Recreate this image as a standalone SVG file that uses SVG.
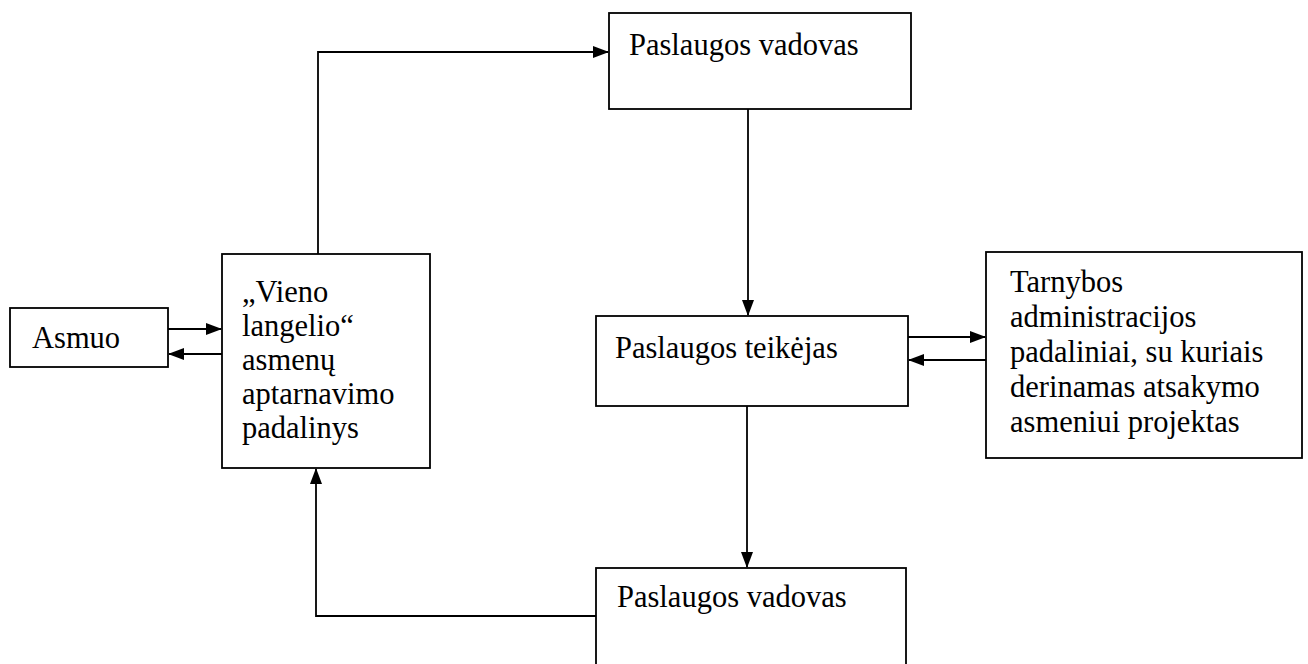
<svg xmlns="http://www.w3.org/2000/svg" width="1308" height="664" viewBox="0 0 1308 664">
<style>
.box{fill:#fff;stroke:#000;stroke-width:1.8}
.t{font-family:"Liberation Serif","Times New Roman",serif;font-size:30.5px;fill:#000}
.c{fill:none;stroke:#000;stroke-width:1.8}
</style>
<defs>
<marker id="ah" markerWidth="16" markerHeight="12" refX="15" refY="6" orient="auto" markerUnits="userSpaceOnUse">
<path d="M0,0 L16,6 L0,12 Z" fill="#000"/>
</marker>
</defs>
<rect width="1308" height="664" fill="#fff"/>
<g id="connectors">
<path class="c" d="M168,329 H221" marker-end="url(#ah)"/>
<path class="c" d="M222,354 H169" marker-end="url(#ah)"/>
<path class="c" d="M318,254 V52 H608" marker-end="url(#ah)"/>
<path class="c" d="M748,109 V315" marker-end="url(#ah)"/>
<path class="c" d="M908,337 H985" marker-end="url(#ah)"/>
<path class="c" d="M986,360 H909" marker-end="url(#ah)"/>
<path class="c" d="M747,406 V567" marker-end="url(#ah)"/>
<path class="c" d="M596,616 H316 V469" marker-end="url(#ah)"/>
</g>
<g id="asmuo">
<rect class="box" x="10" y="308" width="158" height="59"/>
<text class="t" x="32" y="348">Asmuo</text>
</g>
<g id="vieno-langelio">
<rect class="box" x="222" y="254" width="208" height="214"/>
<text class="t" x="242" y="302">„Vieno</text>
<text class="t" x="242" y="336">langelio“</text>
<text class="t" x="242" y="370">asmenų</text>
<text class="t" x="242" y="404">aptarnavimo</text>
<text class="t" x="242" y="438">padalinys</text>
</g>
<g id="vadovas-top">
<rect class="box" x="609" y="13" width="302" height="96"/>
<text class="t" x="629" y="55">Paslaugos vadovas</text>
</g>
<g id="teikejas">
<rect class="box" x="596" y="316" width="312" height="90"/>
<text class="t" x="615" y="358">Paslaugos teikėjas</text>
</g>
<g id="tarnybos">
<rect class="box" x="986" y="252" width="316" height="206"/>
<text class="t" x="1010" y="292">Tarnybos</text>
<text class="t" x="1010" y="327">administracijos</text>
<text class="t" x="1010" y="362">padaliniai, su kuriais</text>
<text class="t" x="1010" y="397">derinamas atsakymo</text>
<text class="t" x="1010" y="432">asmeniui projektas</text>
</g>
<g id="vadovas-bottom">
<rect class="box" x="596" y="568" width="310" height="120"/>
<text class="t" x="617" y="607">Paslaugos vadovas</text>
</g>
</svg>
